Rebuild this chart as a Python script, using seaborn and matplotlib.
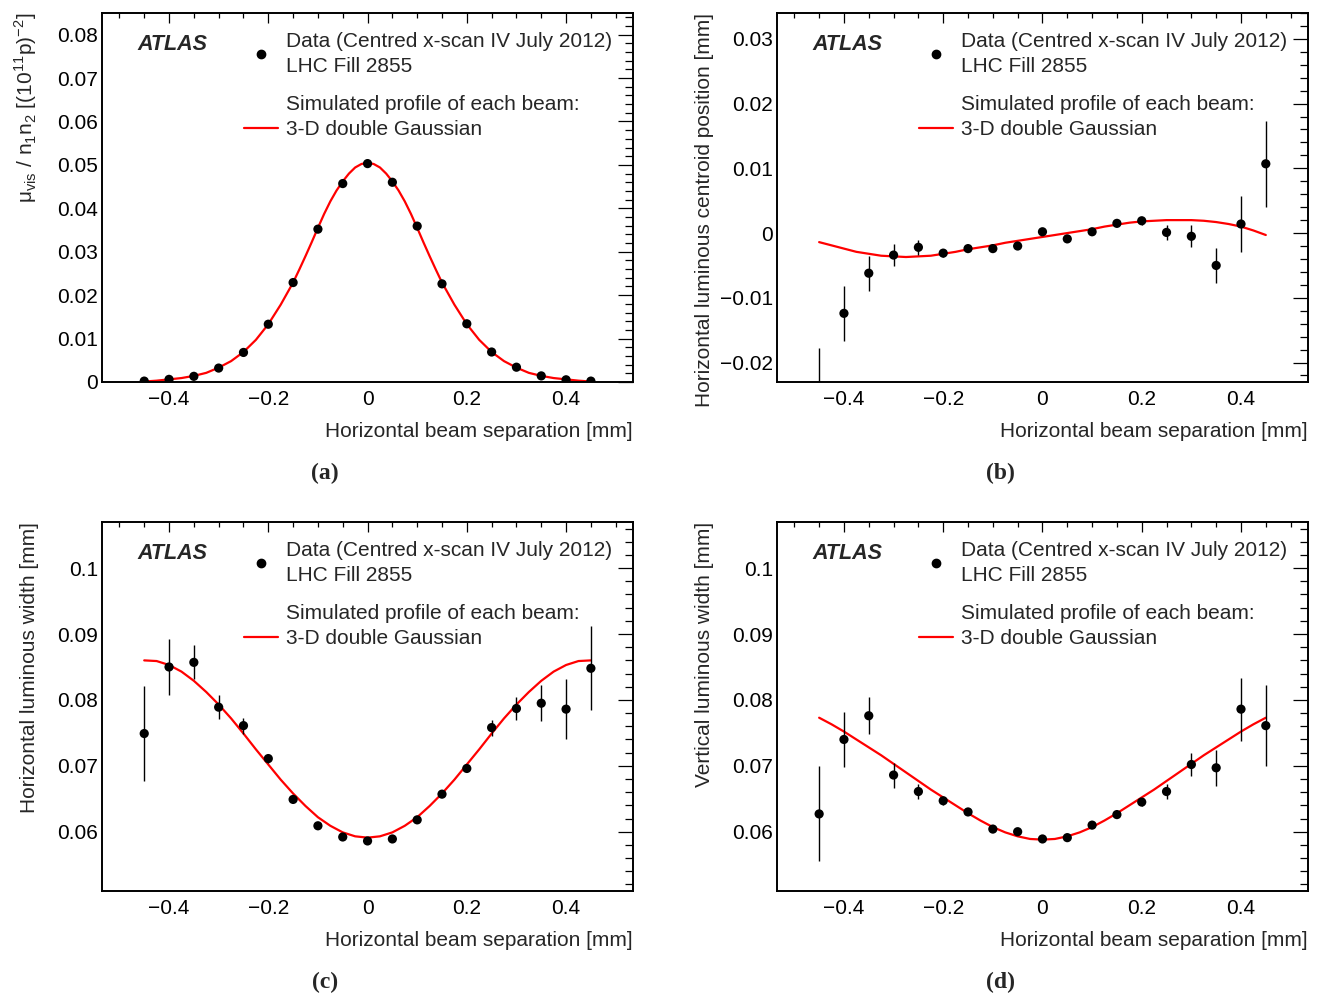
import matplotlib
matplotlib.use("Agg")
import matplotlib.pyplot as plt
import seaborn as sns
import pandas as pd
from matplotlib.lines import Line2D
from matplotlib.ticker import MultipleLocator, FuncFormatter

# ---------------------------------------------------------
# data (x in mm)
# ---------------------------------------------------------
sep = [-0.45, -0.40, -0.35, -0.30, -0.25, -0.20, -0.15, -0.10, -0.05, 0.0,
       0.05, 0.10, 0.15, 0.20, 0.25, 0.30, 0.35, 0.40, 0.45]

mu_vis = [0.0002, 0.0006, 0.0013, 0.0032, 0.0068, 0.0133, 0.0229, 0.0352, 0.0457, 0.0503,
          0.0460, 0.0359, 0.0226, 0.0134, 0.0069, 0.0034, 0.0014, 0.0005, 0.0002]

centroid_x = [-0.0245, -0.0124, -0.0062, -0.0034, -0.0022, -0.0031, -0.0024, -0.0024, -0.0020, 0.0002,
              -0.0009, 0.0002, 0.0015, 0.0019, 0.0001, -0.0005, -0.0050, 0.0014, 0.0107]
centroid_x_err = [0.0068, 0.0043, 0.0027, 0.0017, 0.0012, 0.0006, 0.0004, 0.0004, 0.0004, 0.0003,
                  0.0004, 0.0003, 0.0004, 0.0006, 0.0011, 0.0017, 0.0027, 0.0043, 0.0066]

width_x = [0.0749, 0.0850, 0.0857, 0.0789, 0.0761, 0.0711, 0.0649, 0.0609, 0.0592, 0.0586,
           0.0589, 0.0618, 0.0657, 0.0696, 0.0758, 0.0787, 0.0795, 0.0786, 0.0848]
width_x_err = [0.0072, 0.0043, 0.0026, 0.0018, 0.0012, 0.0006, 0.0004, 0.0003, 0.0003, 0.0003,
               0.0003, 0.0003, 0.0004, 0.0006, 0.0012, 0.0018, 0.0027, 0.0045, 0.0064]

width_y = [0.0627, 0.0740, 0.0776, 0.0686, 0.0661, 0.0647, 0.0630, 0.0604, 0.0600, 0.0589,
           0.0591, 0.0610, 0.0626, 0.0645, 0.0661, 0.0702, 0.0697, 0.0786, 0.0761]
width_y_err = [0.0072, 0.0042, 0.0028, 0.0019, 0.0012, 0.0006, 0.0004, 0.0003, 0.0003, 0.0003,
               0.0003, 0.0003, 0.0004, 0.0006, 0.0011, 0.0018, 0.0027, 0.0048, 0.0061]

# simulated curves (3-D double Gaussian), read every 0.025 mm
sep_fine = [-0.45, -0.425, -0.40, -0.375, -0.35, -0.325, -0.30, -0.275, -0.25, -0.225,
            -0.20, -0.175, -0.15, -0.125, -0.10, -0.075, -0.05, -0.025, 0.0,
            0.025, 0.05, 0.075, 0.10, 0.125, 0.15, 0.175, 0.20, 0.225, 0.25,
            0.275, 0.30, 0.325, 0.35, 0.375, 0.40, 0.425, 0.45]

# panel (a) read a bit denser around the peak
sep_fine_a = [-0.45, -0.425, -0.40, -0.375, -0.35, -0.325, -0.30, -0.275, -0.25, -0.225,
              -0.20, -0.175, -0.15, -0.1375, -0.125, -0.1125, -0.10, -0.0875, -0.075, -0.0625,
              -0.05, -0.0375, -0.025, -0.0125, 0.0,
              0.0125, 0.025, 0.0375, 0.05, 0.0625, 0.075, 0.0875, 0.10, 0.1125, 0.125, 0.1375,
              0.15, 0.175, 0.20, 0.225, 0.25, 0.275, 0.30, 0.325, 0.35, 0.375, 0.40, 0.425, 0.45]

mu_vis_sim = [0.0001, 0.0003, 0.0006, 0.0009, 0.0014, 0.0021, 0.0033, 0.0048, 0.0069, 0.0097,
              0.0133, 0.0178, 0.0229, 0.0259, 0.0290, 0.0322, 0.0355, 0.0387, 0.0416, 0.0441,
              0.0462, 0.0480, 0.0494, 0.0502, 0.0505,
              0.0502, 0.0494, 0.0480, 0.0462, 0.0441, 0.0416, 0.0387, 0.0355, 0.0322, 0.0290, 0.0259,
              0.0229, 0.0178, 0.0133, 0.0097, 0.0069, 0.0048, 0.0033, 0.0021, 0.0014, 0.0009,
              0.0006, 0.0003, 0.0001]

centroid_x_sim = [-0.0014, -0.0019, -0.0024, -0.0029, -0.0032, -0.0035, -0.0036, -0.0037, -0.0036, -0.0035,
                  -0.0032, -0.0029, -0.0025, -0.0022, -0.0019, -0.0015, -0.0012, -0.0009, -0.0006,
                  -0.0003, 0.0000, 0.0003, 0.0006, 0.0010, 0.0013, 0.0016, 0.0018, 0.0019, 0.0020,
                  0.0020, 0.0020, 0.0019, 0.0017, 0.0014, 0.0010, 0.0004, -0.0003]

width_x_sim = [0.0860, 0.0859, 0.0853, 0.0843, 0.0829, 0.0812, 0.0793, 0.0772, 0.0749, 0.0725,
               0.0702, 0.0679, 0.0658, 0.0639, 0.0622, 0.0609, 0.0599, 0.0593, 0.0591,
               0.0593, 0.0599, 0.0609, 0.0622, 0.0639, 0.0658, 0.0679, 0.0702, 0.0725, 0.0749,
               0.0772, 0.0793, 0.0812, 0.0829, 0.0843, 0.0853, 0.0859, 0.0860]

width_y_sim = [0.0773, 0.0763, 0.0752, 0.0740, 0.0728, 0.0716, 0.0703, 0.0690, 0.0677, 0.0664,
               0.0652, 0.0640, 0.0628, 0.0617, 0.0607, 0.0599, 0.0593, 0.0589, 0.0588,
               0.0589, 0.0593, 0.0599, 0.0607, 0.0617, 0.0628, 0.0640, 0.0652, 0.0664, 0.0677,
               0.0690, 0.0703, 0.0716, 0.0728, 0.0740, 0.0752, 0.0763, 0.0773]

ylabels = [r'μ$_{\mathregular{vis}}$ / n$_{\mathregular{1}}$n$_{\mathregular{2}}$ '
           r'[(10$^{\mathregular{11}}$p)$^{\mathregular{-2}}$]',
           'Horizontal luminous centroid position [mm]',
           'Horizontal luminous width [mm]',
           'Vertical luminous width [mm]']
xlabel = 'Horizontal beam separation [mm]'
panel_tags = ['(a)', '(b)', '(c)', '(d)']

panels = [
    (mu_vis, None, sep_fine_a, mu_vis_sim, (0.0, 0.085)),
    (centroid_x, centroid_x_err, sep_fine, centroid_x_sim, (-0.023, 0.034)),
    (width_x, width_x_err, sep_fine, width_x_sim, (0.051, 0.107)),
    (width_y, width_y_err, sep_fine, width_y_sim, (0.051, 0.107)),
]

# ---------------------------------------------------------
# style
# ---------------------------------------------------------
sns.set_theme(style="white")
plt.rcParams['font.family'] = ['Liberation Sans', 'DejaVu Sans']
plt.rcParams['mathtext.fontset'] = 'custom'
plt.rcParams['mathtext.rm'] = 'Liberation Sans'
plt.rcParams['axes.unicode_minus'] = True

FS = 15


def fmt(v, pos):
    s = '{:g}'.format(round(v, 6))
    if s == '-0':
        s = '0'
    return s.replace('-', '\u2212')


fig = plt.figure(figsize=(13.2, 9.96), dpi=100)
lefts = [0.0773, 0.5886, 0.0773, 0.5886]
bottoms = [0.6165, 0.6165, 0.1054, 0.1054]
tag_pos = [(0.246, 0.525), (0.758, 0.525), (0.246, 0.014), (0.758, 0.014)]

for i, (vals, errs, xs_sim, sim, ylim) in enumerate(panels):
    ax = fig.add_axes([lefts[i], bottoms[i], 0.4023, 0.3705])

    df_sim = pd.DataFrame({'sep': xs_sim, 'val': sim})
    sns.lineplot(data=df_sim, x='sep', y='val', color='#ff0000', lw=1.6, ax=ax, zorder=2)

    df = pd.DataFrame({'sep': sep, 'val': vals})
    if errs is not None:
        ax.errorbar(sep, vals, yerr=errs, fmt='none', ecolor='black', elinewidth=1.0,
                    capsize=0, zorder=3)
    sns.scatterplot(data=df, x='sep', y='val', color='black', s=44, edgecolor='none',
                    ax=ax, zorder=4)

    ax.set_xlim(-0.535, 0.535)
    ax.set_ylim(*ylim)
    ax.xaxis.set_major_locator(MultipleLocator(0.2))
    ax.xaxis.set_minor_locator(MultipleLocator(0.05))
    ax.yaxis.set_major_locator(MultipleLocator(0.01))
    ax.yaxis.set_minor_locator(MultipleLocator(0.002))
    ax.xaxis.set_major_formatter(FuncFormatter(fmt))
    ax.yaxis.set_major_formatter(FuncFormatter(fmt))

    ax.tick_params(axis='both', which='both', direction='in', top=True, right=True,
                   color='black', width=0.9, labelsize=FS, labelcolor='black')
    ax.tick_params(axis='x', which='major', length=7.5, pad=6)
    ax.tick_params(axis='x', which='minor', length=3.8)
    ax.tick_params(axis='y', which='major', length=11, pad=3)
    ax.tick_params(axis='y', which='minor', length=5.8)
    for sp in ax.spines.values():
        sp.set_linewidth(1.4)
        sp.set_color('black')

    ax.set_xlabel(xlabel, fontsize=FS, loc='right')
    ax.set_ylabel(ylabels[i], fontsize=FS, loc='top')
    ax.xaxis.set_label_coords(1.0, -0.108)
    ax.yaxis.set_label_coords(-0.118, 1.0)

    # ATLAS label
    ax.text(0.066, 0.915, 'ATLAS', transform=ax.transAxes, fontsize=15.5,
            fontweight='bold', fontstyle='italic', va='center', ha='left')

    # legend: data entry
    h_data = Line2D([], [], ls='none', marker='o', color='black', ms=6)
    leg1 = ax.legend([h_data], ['Data (Centred x-scan IV July 2012)\nLHC Fill 2855'],
                     loc='upper left', bbox_to_anchor=(0.267, 0.949), frameon=False,
                     fontsize=FS, borderpad=0, handlelength=1.63, handletextpad=0.38,
                     borderaxespad=0)
    for t in leg1.get_texts():
        t.set_linespacing(1.42)
    ax.add_artist(leg1)
    # legend: simulated curve
    h_none = Line2D([], [], ls='none')
    h_sim = Line2D([], [], color='#ff0000', lw=1.6)
    ax.legend([h_none, h_sim], ['Simulated profile of each beam:', '3-D double Gaussian'],
              loc='upper left', bbox_to_anchor=(0.267, 0.778), frameon=False,
              fontsize=FS, borderpad=0, handlelength=1.63, handletextpad=0.38,
              labelspacing=0.30, borderaxespad=0)

    fig.text(tag_pos[i][0], tag_pos[i][1], panel_tags[i], fontsize=17, fontweight='bold',
             family=['Liberation Serif', 'DejaVu Serif'], ha='center', va='center')

fig.savefig('out.png', dpi=100)
